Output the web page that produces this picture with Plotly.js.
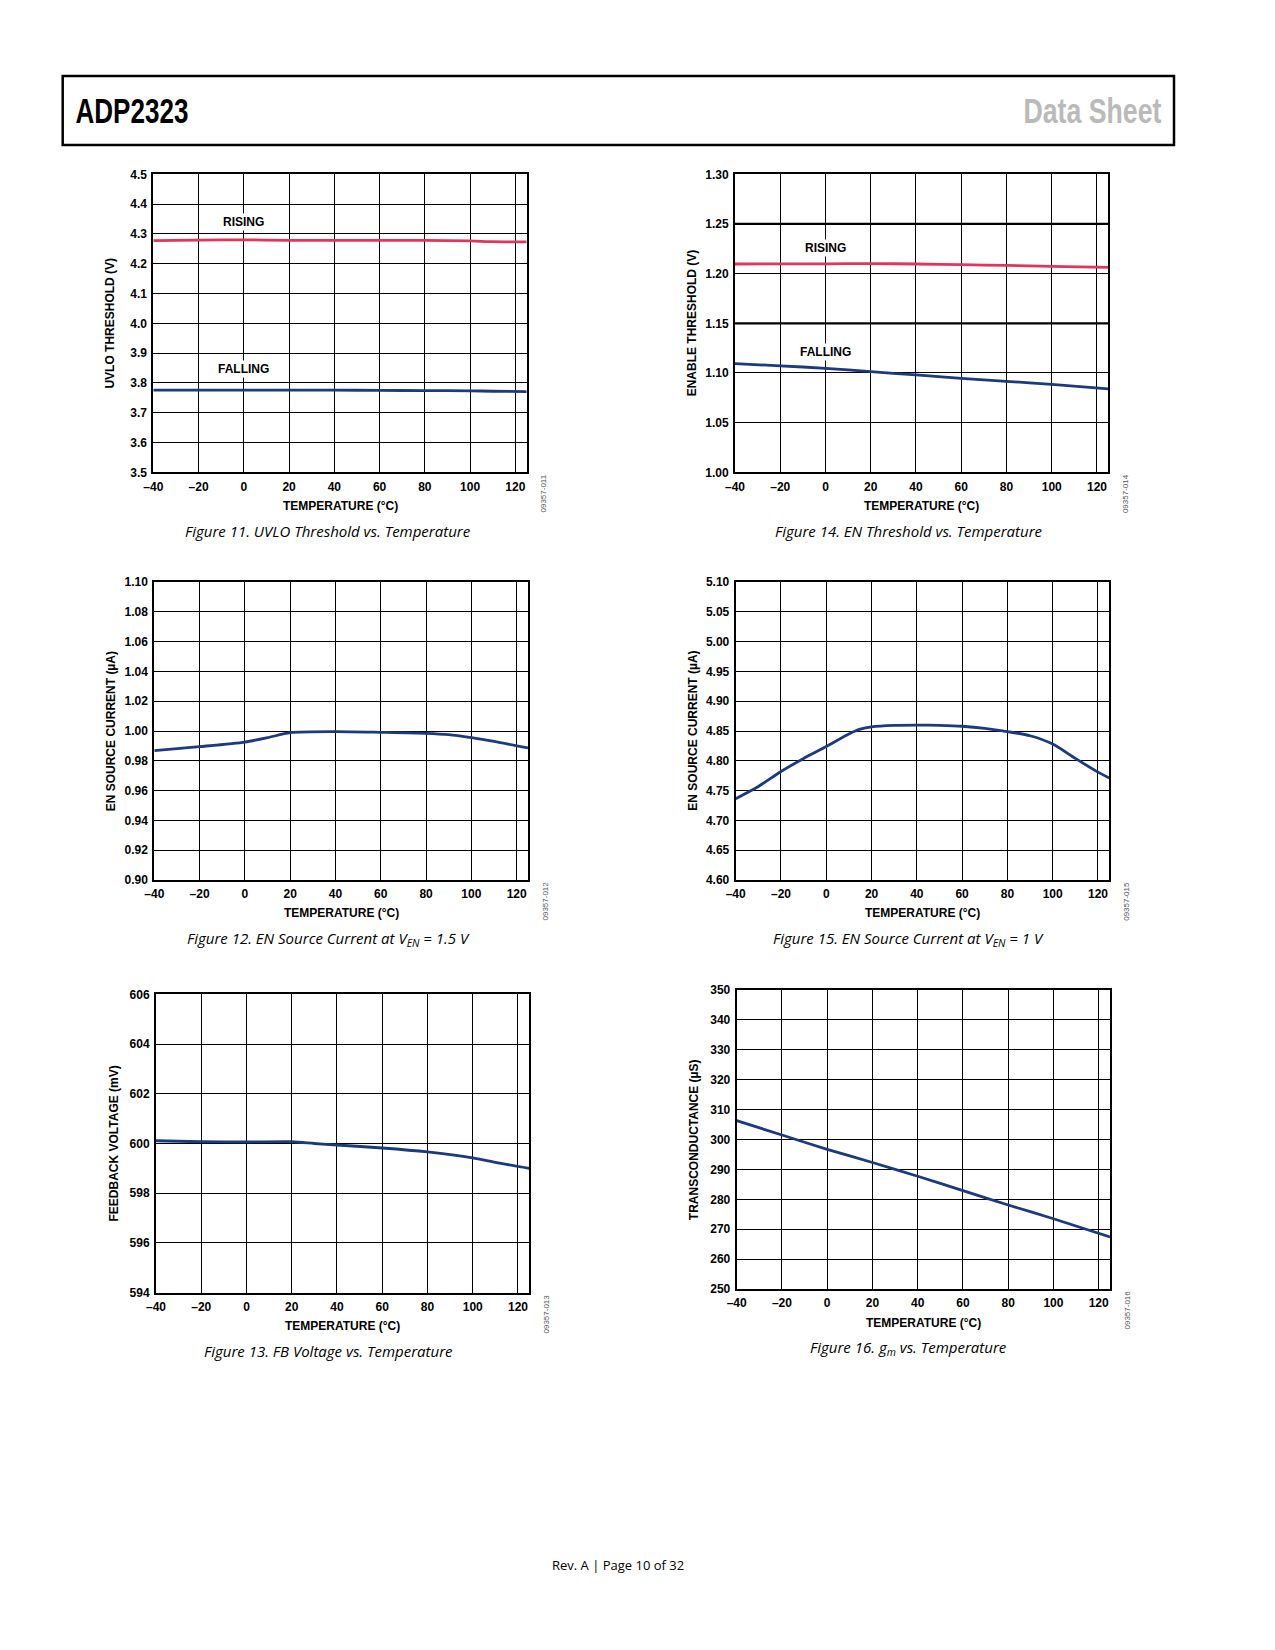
<!DOCTYPE html>
<html>
<head>
<meta charset="utf-8">
<script src="https://cdn.plot.ly/plotly-3.0.1.min.js"></script>
<style>
  body { margin: 0; background: #fff; }
  #page { width: 1275px; height: 1650px; }
</style>
</head>
<body>
<div id="page"></div>
<script>
var uvloTemp = [-40, -20, 0, 20, 40, 60, 80, 100, 110, 125];
var uvloRising = [4.2775, 4.279, 4.280, 4.2785, 4.278, 4.278, 4.278, 4.2765, 4.274, 4.273];
var uvloFalling = [3.7755, 3.7755, 3.7755, 3.776, 3.7755, 3.775, 3.774, 3.7735, 3.772, 3.771];

var enTemp = [-40, -20, 0, 20, 40, 60, 80, 100, 125];
var enRising = [1.2097, 1.2098, 1.2099, 1.2101, 1.2097, 1.2090, 1.2083, 1.2074, 1.2064];
var enFalling = [1.1094, 1.1072, 1.1047, 1.1013, 1.0980, 1.0946, 1.0916, 1.0886, 1.0839];

var isrc15Temp = [-40, -20, 0, 10, 20, 40, 60, 80, 90, 100, 110, 125];
var isrc15 = [0.9868, 0.9895, 0.9926, 0.9955, 0.9989, 0.9996, 0.9991, 0.9984, 0.9975, 0.9955, 0.9930, 0.9886];

var isrc1Temp = [-40, -30, -20, -10, 0, 10, 15, 20, 30, 40, 50, 60, 70, 80, 90, 100, 110, 120, 125];
var isrc1 = [4.7365, 4.757, 4.782, 4.804, 4.824, 4.845, 4.853, 4.857, 4.8595, 4.860, 4.8595, 4.858, 4.8545, 4.849, 4.842, 4.828, 4.804, 4.781, 4.771];

var fbTemp = [-40, -20, 0, 20, 30, 40, 60, 80, 100, 110, 125];
var fbVolt = [600.11, 600.07, 600.06, 600.07, 600.00, 599.94, 599.82, 599.66, 599.42, 599.24, 599.00];

var gmTemp = [-40, -20, 0, 20, 40, 60, 80, 100, 125];
var gm = [306.3, 301.5, 296.7, 292.3, 287.7, 282.9, 278.1, 273.5, 267.4];

var tempTicks = [-40, -20, 0, 20, 40, 60, 80, 100, 120];
var tempTickText = ['\u201340', '\u201320', '0', '20', '40', '60', '80', '100', '120'];

var RED = '#e2345c';
var BLUE = '#1b3a80';
var W = 1275, H = 1650;

function px(x) { return x / W; }
function py(y) { return 1 - y / H; }

// panel boxes in page pixels: left, right, top, bottom
var panels = [
  { box: [153.3, 526.7, 174.3, 472.3], yr: [3.5, 4.5], dt: 0.1, fmt: '.1f',
    ytitle: 'UVLO THRESHOLD (V)', cap: 'Figure 11. UVLO Threshold vs. Temperature', code: '09357-011', capx: 328 },
  { box: [735, 1108.3, 174.3, 472.3], yr: [1.0, 1.3], dt: 0.05, fmt: '.2f',
    ytitle: 'ENABLE THRESHOLD (V)', cap: 'Figure 14. EN Threshold vs. Temperature', code: '09357-014', capx: 909 },
  { box: [154.3, 528, 582, 880], yr: [0.9, 1.1], dt: 0.02, fmt: '.2f',
    ytitle: 'EN SOURCE CURRENT (\u00b5A)', cap: 'Figure 12. EN Source Current at V<sub>EN</sub> = 1.5 V', code: '09357-012', capx: 328 },
  { box: [735.7, 1109.3, 582, 880], yr: [4.6, 5.1], dt: 0.05, fmt: '.2f',
    ytitle: 'EN SOURCE CURRENT (\u00b5A)', cap: 'Figure 15. EN Source Current at V<sub>EN</sub> = 1 V', code: '09357-015', capx: 909 },
  { box: [156, 529.3, 994.3, 1292.7], yr: [594, 606], dt: 2, fmt: 'd',
    ytitle: 'FEEDBACK VOLTAGE (mV)', cap: 'Figure 13. FB Voltage vs. Temperature', code: '09357-013', capx: 328 },
  { box: [736.7, 1110, 990, 1289], yr: [250, 350], dt: 10, fmt: 'd',
    ytitle: 'TRANSCONDUCTANCE (\u00b5S)', cap: 'Figure 16. <i>g</i><sub>m</sub> vs. Temperature', code: '09357-016', capx: 909 }
];

var series = [
  [uvloTemp, uvloRising, RED, 0], [uvloTemp, uvloFalling, BLUE, 0],
  [enTemp, enRising, RED, 1], [enTemp, enFalling, BLUE, 1],
  [isrc15Temp, isrc15, BLUE, 2],
  [isrc1Temp, isrc1, BLUE, 3],
  [fbTemp, fbVolt, BLUE, 4],
  [gmTemp, gm, BLUE, 5]
];

var tickFont = { family: 'Liberation Sans, Arial, sans-serif', size: 12, weight: 'bold', color: '#000' };
var labelFont = { family: 'Liberation Sans, Arial, sans-serif', size: 12, weight: 'bold', color: '#000' };
var capFont = { family: 'Open Sans, Noto Sans, sans-serif', size: 15, style: 'italic', color: '#000' };
var headFont = { family: 'Liberation Sans, Arial, sans-serif', size: 35, weight: 'bold' };

var data = series.map(function (s) {
  var n = s[3] === 0 ? '' : String(s[3] + 1);
  return {
    x: s[0], y: s[1], xaxis: 'x' + n, yaxis: 'y' + n,
    type: 'scatter', mode: 'lines', hoverinfo: 'skip',
    line: { color: s[2], width: 2.8, shape: 'spline', smoothing: 0.7 }
  };
});

var layout = {
  width: W, height: H,
  margin: { l: 0, r: 0, t: 0, b: 0 },
  paper_bgcolor: '#fff', plot_bgcolor: '#fff',
  showlegend: false,
  annotations: [],
  shapes: []
};

panels.forEach(function (p, i) {
  var n = i === 0 ? '' : String(i + 1);
  var b = p.box;
  layout['xaxis' + n] = {
    domain: [px(b[0]), px(b[1])], anchor: 'y' + n,
    range: [-40, 125], tickmode: 'array', tickvals: tempTicks, ticktext: tempTickText,
    showgrid: true, gridcolor: '#000', gridwidth: 1, zeroline: false,
    showline: true, linecolor: '#000', linewidth: 2, mirror: true,
    ticks: 'outside', ticklen: 0, ticklabelstandoff: 2, tickfont: tickFont,
    fixedrange: true
  };
  var yv = [];
  for (var k = 0; k <= Math.round((p.yr[1] - p.yr[0]) / p.dt); k++) yv.push(+(p.yr[0] + k * p.dt).toFixed(3));
  layout['yaxis' + n] = {
    domain: [py(b[3]), py(b[2])], anchor: 'x' + n,
    range: p.yr, tickmode: 'array', tickvals: yv, tickformat: p.fmt,
    showgrid: true, gridcolor: '#000', gridwidth: 1, zeroline: false,
    showline: true, linecolor: '#000', linewidth: 2, mirror: true,
    ticks: 'outside', ticklen: 0, ticklabelstandoff: 2, tickfont: tickFont,
    fixedrange: true
  };
  var cx = (b[0] + b[1]) / 2, cy = (b[2] + b[3]) / 2;
  layout.annotations.push(
    { text: p.ytitle, xref: 'paper', yref: 'paper', x: px(b[0] - 43), y: py(cy), textangle: -90,
      showarrow: false, xanchor: 'center', yanchor: 'middle', font: labelFont },
    { text: 'TEMPERATURE (\u00b0C)', xref: 'paper', yref: 'paper', x: px(cx), y: py(b[3] + 33.5),
      showarrow: false, xanchor: 'center', yanchor: 'middle', font: labelFont },
    { text: p.cap, xref: 'paper', yref: 'paper', x: px(p.capx), y: py(b[3] + 58.5),
      showarrow: false, xanchor: 'center', yanchor: 'middle', font: capFont },
    { text: p.code, xref: 'paper', yref: 'paper', x: px(b[1] + 17), y: py(b[3] + 21.5), textangle: -90,
      showarrow: false, xanchor: 'center', yanchor: 'middle',
      font: { family: 'Liberation Sans, Arial, sans-serif', size: 8, color: '#555' } }
  );
});

// curve labels (white box breaks the grid like the original)
var curveLabels = [
  ['RISING', 0, 4.34, ''], ['FALLING', 0, 3.846, ''],
  ['RISING', 0, 1.2255, '2'], ['FALLING', 0, 1.1214, '2']
];
curveLabels.forEach(function (c) {
  layout.annotations.push({
    text: c[0], xref: 'x' + c[3], yref: 'y' + c[3], x: c[1], y: c[2],
    showarrow: false, bgcolor: '#fff', borderpad: 1, font: labelFont
  });
});

// heavier grid rules in Figure 14
[1.25, 1.15].forEach(function (v) {
  layout.shapes.push({ type: 'line', xref: 'x2 domain', yref: 'y2', x0: 0, x1: 1, y0: v, y1: v,
    line: { color: '#000', width: 2.2 }, layer: 'below' });
});

// page header, footer
layout.shapes.push({ type: 'rect', xref: 'paper', yref: 'paper',
  x0: px(62.7), x1: px(1174), y0: py(145), y1: py(76), line: { color: '#000', width: 2.5 } });
layout.annotations.push(
  { text: 'ADP2323', xref: 'paper', yref: 'paper', x: px(131.5), y: py(111), xanchor: 'center', yanchor: 'middle',
    showarrow: false, font: Object.assign({ color: '#000' }, headFont) },
  { text: 'Data Sheet', xref: 'paper', yref: 'paper', x: px(1092), y: py(111), xanchor: 'center', yanchor: 'middle',
    showarrow: false, font: Object.assign({ color: '#bababa' }, headFont) },
  { text: 'Rev. A | Page 10 of 32', xref: 'paper', yref: 'paper', x: px(618), y: py(1565), xanchor: 'center', yanchor: 'middle',
    showarrow: false, font: { family: 'Open Sans, Noto Sans, sans-serif', size: 13, color: '#000' } }
);

Plotly.newPlot('page', data, layout, { displayModeBar: false, staticPlot: true }).then(function (gd) {
  // the header face is a condensed grotesque: squeeze the heading texts to its width
  var widths = { 'ADP2323': 113, 'Data Sheet': 138 };
  gd.querySelectorAll('.annotation-text').forEach(function (t) {
    var w = widths[t.textContent];
    if (w) {
      t.setAttribute('textLength', w);
      t.setAttribute('lengthAdjust', 'spacingAndGlyphs');
    }
  });
});
</script>
</body>
</html>
